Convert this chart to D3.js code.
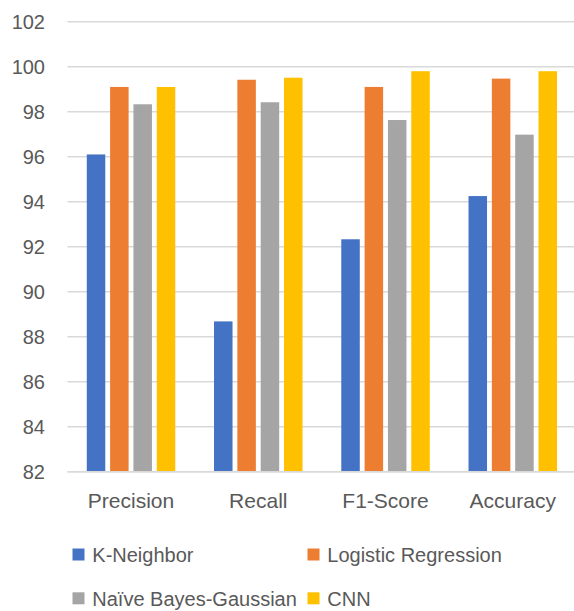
<!DOCTYPE html>
<html>
<head>
<meta charset="utf-8">
<script src="https://cdn.jsdelivr.net/npm/d3@7"></script>
<style>
  html, body { margin: 0; padding: 0; background: #ffffff; }
  svg { display: block; }
  text { font-family: "Liberation Sans", Arial, sans-serif; fill: #595959; }
</style>
</head>
<body>
<svg id="chart" width="574" height="611"></svg>
<script>
// Metrics on the x axis
const categories = ["Precision", "Recall", "F1-Score", "Accuracy"];

// Classifier names, in legend order
const seriesNames = ["K-Neighbor", "Logistic Regression", "Naïve Bayes-Gaussian", "CNN"];

// Scores (%) per classifier, one value per metric
const kNeighbor          = [96.1, 88.68, 92.33, 94.25];
const logisticRegression = [99.1, 99.42, 99.1, 99.47];
const naiveBayesGaussian = [98.33, 98.42, 97.63, 96.98];
const cnn                = [99.1, 99.51, 99.8, 99.8];

// Y axis ticks
const yTicks = [82, 84, 86, 88, 90, 92, 94, 96, 98, 100, 102];

const seriesValues = [kNeighbor, logisticRegression, naiveBayesGaussian, cnn];
const colors = ["#4472C4", "#ED7D31", "#A5A5A5", "#FFC000"];

const svg = d3.select("#chart");

const plot = { left: 67.4, right: 576.4, top: 21.7, bottom: 471.7 };

const y = d3.scaleLinear().domain([82, 102]).range([plot.bottom, plot.top]);
const x0 = d3.scaleBand().domain(categories).range([plot.left, plot.right]).padding(0);
const x1 = d3.scaleBand().domain(seriesNames).range([-44.25, 44.25]).paddingInner(0.207).paddingOuter(0);

// Horizontal gridlines
svg.append("g")
  .selectAll("line")
  .data(yTicks)
  .join("line")
  .attr("x1", plot.left)
  .attr("x2", 574)
  .attr("y1", d => y(d))
  .attr("y2", d => y(d))
  .attr("stroke", "#d9d9d9")
  .attr("stroke-width", 1.5);

// Y axis labels
const yAxis = d3.axisLeft(y).tickValues(yTicks).tickSize(0).tickPadding(0);
svg.append("g")
  .attr("transform", "translate(45,0)")
  .call(yAxis)
  .call(g => g.select(".domain").remove())
  .call(g => g.selectAll("text")
    .attr("fill", "#595959")
    .style("font-family", "'Liberation Sans', Arial, sans-serif")
    .style("font-size", "20px"));

// Bars
const groups = svg.append("g")
  .selectAll("g")
  .data(categories)
  .join("g")
  .attr("transform", c => `translate(${x0(c) + x0.bandwidth() / 2},0)`);

groups.selectAll("rect")
  .data((c, ci) => seriesNames.map((s, si) => ({ s, si, v: seriesValues[si][ci] })))
  .join("rect")
  .attr("x", d => x1(d.s))
  .attr("width", x1.bandwidth())
  .attr("y", d => y(d.v))
  .attr("height", d => y(82) - y(d.v))
  .attr("fill", d => colors[d.si]);

// Baseline axis line
svg.append("line")
  .attr("x1", plot.left).attr("x2", 574)
  .attr("y1", y(82)).attr("y2", y(82))
  .attr("stroke", "#d9d9d9").attr("stroke-width", 1.5);

// Category labels
const xAxis = d3.axisBottom(x0).tickSize(0).tickPadding(0);
svg.append("g")
  .attr("transform", `translate(0,${y(82)})`)
  .call(xAxis)
  .call(g => g.select(".domain").remove())
  .call(g => g.selectAll("text")
    .attr("y", 36.6)
    .attr("dy", 0)
    .attr("fill", "#595959")
    .style("font-family", "'Liberation Sans', Arial, sans-serif")
    .style("font-size", "21px"));

// Legend, two columns by two rows
const legendCols = [72.5, 307.5];
const legendRows = [554.5, 598.3];
const legend = svg.append("g")
  .selectAll("g")
  .data(seriesNames)
  .join("g")
  .attr("transform", (d, i) => `translate(${legendCols[i % 2]},${legendRows[Math.floor(i / 2)]})`);

legend.append("rect")
  .attr("x", 0).attr("y", -6)
  .attr("width", 12).attr("height", 12)
  .attr("fill", (d, i) => colors[i]);

legend.append("text")
  .attr("x", 19.8)
  .attr("y", 0)
  .attr("dy", "0.36em")
  .style("font-size", "20px")
  .text(d => d);
</script>
</body>
</html>
